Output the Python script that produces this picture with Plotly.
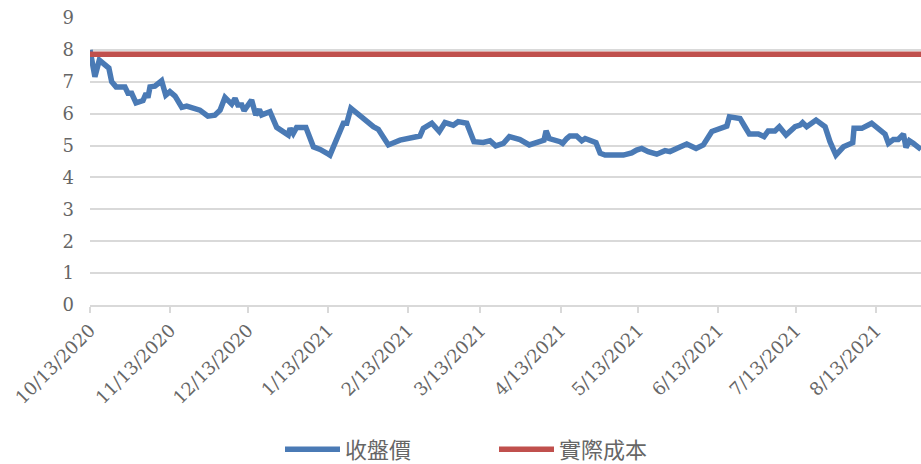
import pandas as pd
import plotly.graph_objects as go

start_date = "2020-10-13"
# days after 10/13/2020 for each closing-price reading
day_offsets = [0, 1.9, 3.6, 5.0, 7.3, 8.4, 10.1, 13.5, 14.7, 16.1, 17.8, 20.5, 21.7, 22.4, 23.2,
               25.1, 27.7, 29.3, 30.9, 32.9, 34.8, 35.5, 37.4, 41.3, 42.5, 45.6, 48.3, 50.3, 52.2,
               54.8, 56.1, 57.2, 58.7, 59.6, 62.5, 64.1, 65.5, 66.4, 69.6, 72.2, 73.5, 76.7, 77.4,
               78.6, 79.9, 83.5, 86.4, 89.0, 92.2, 92.8, 98.0, 99.3, 100.9, 103.2, 105.1, 107.0,
               109.6, 111.5, 115.4, 119.9, 127.6, 128.9, 132.2, 135.1, 137.3, 140.5, 142.4, 145.7,
               148.5, 152.1, 154.7, 156.9, 159.9, 162.2, 166.3, 169.9, 174.0, 175.6, 176.4, 177.6,
               181.8, 182.8, 184.4, 185.6, 188.2, 190.2, 191.5, 193.4, 195.7, 197.3, 199.2, 206.3,
               209.5, 211.4, 213.4, 215.9, 219.2, 222.4, 224.3, 226.9, 230.8, 234.4, 237.2, 240.5,
               242.4, 246.3, 247.3, 251.4, 253.3, 255.0, 258.5, 260.7, 262.3, 264.9, 266.6, 269.2,
               272.7, 274.6, 275.6, 277.2, 280.8, 284.3, 286.2, 288.5, 291.4, 295.0, 295.5, 298.5,
               302.3, 305.3, 307.5, 308.8, 310.7, 312.6, 314.6, 315.6, 316.9, 318.4, 321.4]
close_price = [8.00, 7.16, 7.68, 7.58, 7.43, 7.00, 6.84, 6.84, 6.64, 6.64, 6.34, 6.41, 6.64, 6.50, 6.84,
               6.86, 7.03, 6.58, 6.69, 6.55, 6.32, 6.20, 6.24, 6.17, 6.11, 5.92, 5.95, 6.11, 6.51,
               6.30, 6.48, 6.27, 6.27, 6.09, 6.43, 5.96, 6.13, 5.96, 6.06, 5.57, 5.49, 5.33, 5.54,
               5.38, 5.57, 5.57, 4.96, 4.88, 4.73, 4.70, 5.70, 5.70, 6.17, 6.01, 5.90, 5.75,
               5.59, 5.51, 5.02, 5.17, 5.30, 5.54, 5.70, 5.44, 5.72, 5.64, 5.75, 5.70,
               5.12, 5.10, 5.15, 4.99, 5.07, 5.28, 5.19, 5.02, 5.15, 5.17, 5.46, 5.22,
               5.12, 5.07, 5.22, 5.30, 5.30, 5.15, 5.22, 5.15, 5.09, 4.76, 4.70, 4.70,
               4.77, 4.86, 4.91, 4.81, 4.73, 4.84, 4.81, 4.91, 5.05, 4.91, 5.02, 5.44,
               5.49, 5.61, 5.90, 5.85, 5.59, 5.36, 5.36, 5.28, 5.46, 5.46, 5.59, 5.33,
               5.59, 5.64, 5.72, 5.59, 5.80, 5.59, 5.12, 4.70, 4.96, 5.09, 5.54, 5.54,
               5.70, 5.49, 5.36, 5.07, 5.19, 5.19, 5.36, 4.94, 5.15, 5.07, 4.88]
actual_cost = 7.86
cost_span_days = [0, 321.4]

tick_dates = ["2020-10-13", "2020-11-13", "2020-12-13", "2021-01-13", "2021-02-13", "2021-03-13",
              "2021-04-13", "2021-05-13", "2021-06-13", "2021-07-13", "2021-08-13"]
y_ticks = [0, 1, 2, 3, 4, 5, 6, 7, 8, 9]

base = pd.Timestamp(start_date)
x_close = base + pd.to_timedelta(day_offsets, unit="D")
x_cost = base + pd.to_timedelta(cost_span_days, unit="D")

serif = "DejaVu Serif, serif"
cjk = "DejaVu Serif, Noto Sans CJK TC"
grey = "#666666"

fig = go.Figure()
fig.add_trace(go.Scatter(x=x_close, y=close_price, mode="lines", name="收盤價",
                         line=dict(color="#4a7ab5", width=5.5), showlegend=True))
fig.add_trace(go.Scatter(x=x_cost, y=[actual_cost] * len(cost_span_days), mode="lines", name="實際成本",
                         line=dict(color="#c0504d", width=5.5), showlegend=True))

fig.update_layout(
    width=921, height=464,
    margin=dict(l=90, r=0, t=18, b=159, autoexpand=False),
    paper_bgcolor="white", plot_bgcolor="white",
    font=dict(family=serif, color=grey, size=18),
    showlegend=True,
    legend=dict(orientation="h", x=(280 - 90) / 831, y=-0.503, xanchor="left", yanchor="middle",
                font=dict(family=cjk, size=22, color=grey), itemwidth=55,
                entrywidth=144, entrywidthmode="pixels", bgcolor="rgba(0,0,0,0)"),
    xaxis=dict(type="date", range=[base, base + pd.Timedelta(days=321.4)],
               tickvals=pd.to_datetime(tick_dates), tickformat="%-m/%-d/%Y", tickangle=-45,
               showgrid=False, showline=True, linecolor="#d9d9d9", linewidth=1.5,
               ticks="outside", ticklen=6, tickcolor="#d9d9d9", tickwidth=1.5,
               tickfont=dict(family=serif, size=18, color=grey), zeroline=False,
               automargin=False),
    yaxis=dict(range=[0, 9], tickvals=y_ticks, showgrid=True, gridcolor="#d9d9d9", gridwidth=1.5,
               zeroline=False, showline=False, ticks="", ticklabelstandoff=15,
               tickfont=dict(family=serif, size=18, color=grey), automargin=False),
)

fig.write_html("out.html", config={"displayModeBar": False},
               post_script="document.body.style.margin='0';document.body.style.overflow='hidden';")
